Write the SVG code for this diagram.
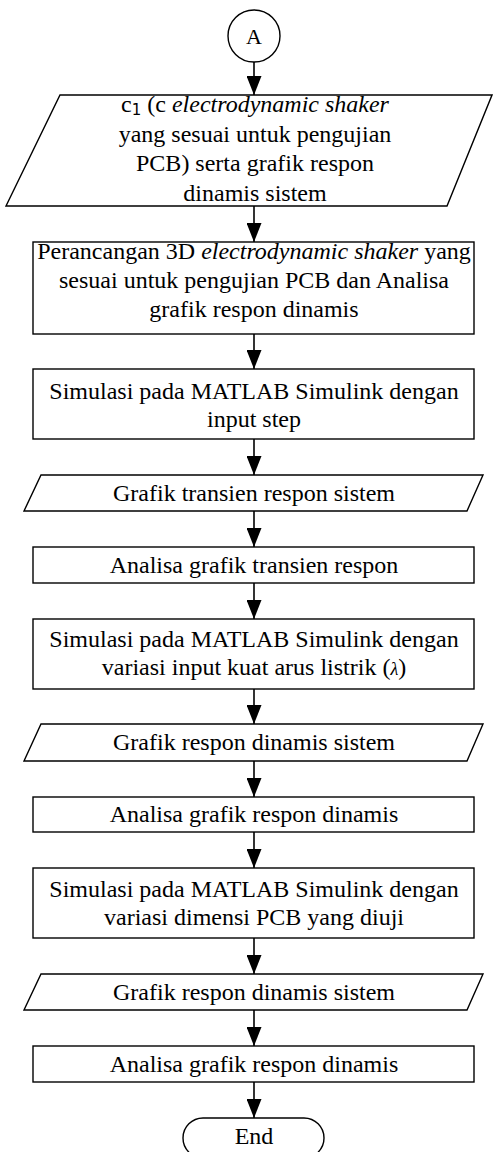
<svg xmlns="http://www.w3.org/2000/svg" width="493" height="1152" viewBox="0 0 493 1152">
  <style>
    .shape { fill: #ffffff; stroke: #000000; stroke-width: 1.4; }
    .flow { stroke: #000000; stroke-width: 1.6; fill: none; marker-end: url(#arrow); }
    text { font-family: "Liberation Serif", "Times New Roman", serif; font-size: 24px; fill: #000000; text-anchor: middle; }
    .it { font-style: italic; }
  </style>
  <defs>
    <marker id="arrow" markerUnits="userSpaceOnUse" markerWidth="19" markerHeight="15" refX="19" refY="7.5" orient="auto">
      <path d="M0,0 L19,7.5 L0,15 z" fill="#000000"/>
    </marker>
  </defs>

  <rect width="493" height="1152" fill="#ffffff"/>

  <!-- connectors -->
  <g id="connectors">
    <line class="flow" x1="254" y1="62" x2="254" y2="95"/>
    <line class="flow" x1="254" y1="206" x2="254" y2="242"/>
    <line class="flow" x1="254" y1="334" x2="254" y2="369"/>
    <line class="flow" x1="254" y1="439" x2="254" y2="475"/>
    <line class="flow" x1="254" y1="511" x2="254" y2="547"/>
    <line class="flow" x1="254" y1="583" x2="254" y2="619"/>
    <line class="flow" x1="254" y1="689" x2="254" y2="724"/>
    <line class="flow" x1="254" y1="761" x2="254" y2="797"/>
    <line class="flow" x1="254" y1="832" x2="254" y2="868"/>
    <line class="flow" x1="254" y1="938" x2="254" y2="974"/>
    <line class="flow" x1="254" y1="1010" x2="254" y2="1046"/>
    <line class="flow" x1="254" y1="1082" x2="254" y2="1118"/>
  </g>

  <!-- off-page connector A -->
  <g id="connector-a">
    <circle class="shape" cx="254" cy="36" r="26"/>
    <text x="254" y="44" style="font-size:22px">A</text>
  </g>

  <!-- input: shaker parameters and dynamic response -->
  <g id="input-parameters">
    <polygon class="shape" points="60,95 492,95 447,206 6,206"/>
    <text x="255" y="112">c<tspan font-family="DejaVu Sans, sans-serif" font-size="15" dy="3">1</tspan><tspan dy="-3"> (c  </tspan><tspan class="it">electrodynamic shaker</tspan></text>
    <text x="255" y="142">yang sesuai untuk pengujian</text>
    <text x="255" y="171">PCB) serta grafik respon</text>
    <text x="255" y="201">dinamis sistem</text>
  </g>

  <g id="design-3d">
    <rect class="shape" x="33" y="242" width="441" height="92"/>
    <text x="254" y="259">Perancangan 3D <tspan class="it">electrodynamic shaker</tspan> yang</text>
    <text x="254" y="288">sesuai untuk pengujian PCB dan Analisa</text>
    <text x="254" y="317">grafik respon dinamis</text>
  </g>

  <g id="sim-step">
    <rect class="shape" x="33" y="369" width="441" height="70"/>
    <text x="254" y="399">Simulasi pada MATLAB Simulink dengan</text>
    <text x="254" y="427">input step</text>
  </g>

  <g id="out-transient">
    <polygon class="shape" points="41,475 483,475 467,511 24,511"/>
    <text x="254" y="501">Grafik transien respon sistem</text>
  </g>

  <g id="analysis-transient">
    <rect class="shape" x="33" y="547" width="441" height="36"/>
    <text x="254" y="573">Analisa grafik transien respon</text>
  </g>

  <g id="sim-current">
    <rect class="shape" x="33" y="619" width="441" height="70"/>
    <text x="254" y="647">Simulasi pada MATLAB Simulink dengan</text>
    <text x="254" y="675">variasi input kuat arus listrik (<tspan class="it" font-size="18">λ</tspan>)</text>
  </g>

  <g id="out-dynamic-1">
    <polygon class="shape" points="41,724 483,724 467,761 24,761"/>
    <text x="254" y="750">Grafik respon dinamis sistem</text>
  </g>

  <g id="analysis-dynamic-1">
    <rect class="shape" x="33" y="797" width="441" height="35"/>
    <text x="254" y="822">Analisa grafik respon dinamis</text>
  </g>

  <g id="sim-pcb">
    <rect class="shape" x="33" y="868" width="441" height="70"/>
    <text x="254" y="897">Simulasi pada MATLAB Simulink dengan</text>
    <text x="254" y="925">variasi dimensi PCB yang diuji</text>
  </g>

  <g id="out-dynamic-2">
    <polygon class="shape" points="41,974 483,974 467,1010 24,1010"/>
    <text x="254" y="1000">Grafik respon dinamis sistem</text>
  </g>

  <g id="analysis-dynamic-2">
    <rect class="shape" x="33" y="1046" width="441" height="36"/>
    <text x="254" y="1072">Analisa grafik respon dinamis</text>
  </g>

  <g id="end">
    <rect class="shape" x="183" y="1118" width="141" height="40" rx="20" ry="20"/>
    <text x="254" y="1144">End</text>
  </g>
</svg>
